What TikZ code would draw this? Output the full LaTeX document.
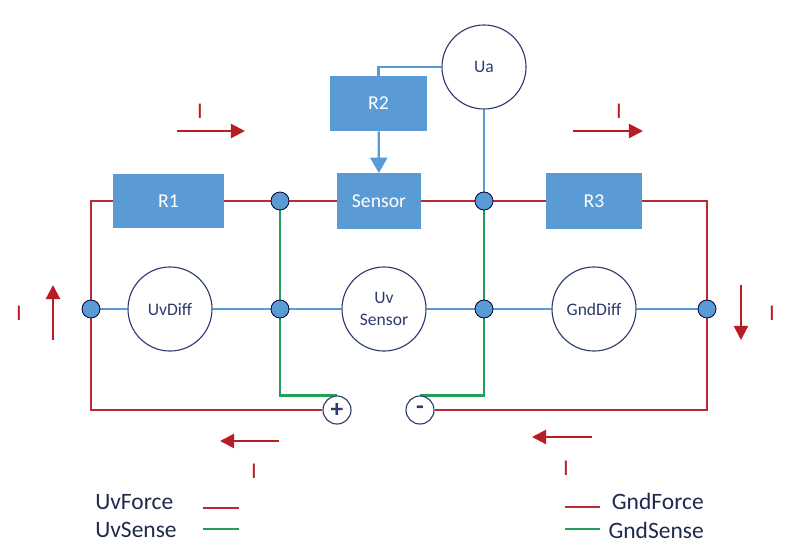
\documentclass[tikz,border=0pt]{standalone}
\usepackage{fontspec}
\setmainfont{Carlito}
\usepackage{xcolor}
\usetikzlibrary{calc,positioning,arrows.meta}
\definecolor{boxblue}{HTML}{5B9BD5}
\definecolor{wirered}{HTML}{B92B33}
\definecolor{arrowred}{HTML}{B81D24}
\definecolor{wiregreen}{HTML}{22A05A}
\definecolor{inkblue}{HTML}{2E3B6E}
\pgfdeclarelayer{background}
\pgfsetlayers{background,main}
\tikzset{
    x=0.025cm, y=-0.025cm,
    font={\fontsize{12.5pt}{15}\selectfont},
    block/.style={
        rectangle,
        fill=boxblue,
        text=white,
        inner sep=0pt,
        font={\fontsize{14pt}{15}\selectfont}
    },
    meter/.style={
        circle,
        draw=inkblue, thick,
        fill=white,
        text=inkblue,
        minimum size=2.1cm,
        inner sep=0pt,
        align=center
    },
    junction/.style={
        circle,
        draw=black!80!blue, semithick,
        fill=boxblue,
        minimum size=0.45cm,
        inner sep=0pt
    },
    terminal/.style={
        circle,
        draw=inkblue, thick,
        fill=white,
        text=inkblue,
        minimum size=0.7cm,
        inner sep=0pt,
        font={\fontsize{18pt}{18}\selectfont\bfseries}
    },
    force/.style={draw=wirered, line width=1.6pt},
    sense/.style={draw=wiregreen, line width=1.6pt},
    signal/.style={draw=boxblue, line width=1.6pt},
    current/.style={draw=arrowred, line width=1.5pt, -{Triangle[length=10pt,width=10pt]}},
    currentlabel/.style={text=arrowred, inner sep=0pt, font={\fontsize{16pt}{17}\selectfont}},
    legend/.style={text=inkblue!70!black, inner sep=0pt, font={\fontsize{16.7pt}{20}\selectfont}},
}
\begin{document}
\begin{tikzpicture}
\useasboundingbox (0,0) rectangle (800,558);
% upper row
\node[block, minimum width=2.78cm, minimum height=1.36cm] (r1) at (168.5,201) {R1};
\node[block, minimum width=2.1cm, minimum height=1.38cm] (sensor) at (379,201) {Sensor};
\node[block, minimum width=2.4cm, minimum height=1.38cm] (r3) at (594,201) {R3};
\node[block, minimum width=2.42cm, minimum height=1.38cm] (r2) at (378.5,103.5) {R2};
\node[meter] (ua) at (484,67) {Ua};
% meters
\node[meter] (uvdiff) at (170,309) {UvDiff};
\node[meter] (uvsensor) at (384,309) {Uv\\[1pt]Sensor};
\node[meter] (gnddiff) at (594,309) {GndDiff};
% junctions
\node[junction] (jl) at (91,309) {};
\node[junction] (ja) at (280,201) {};
\node[junction] (jb) at (280,309) {};
\node[junction] (jc) at (484,201) {};
\node[junction] (jd) at (484,309) {};
\node[junction] (jr) at (707,309) {};
% terminals
\node[terminal] (plus) at (337,410) {\raisebox{-0.7pt}{+}};
\node[terminal] (minus) at (420,410) {\raisebox{-2.2pt}{-}};
\begin{pgfonlayer}{background}
    % force lines
    \draw[force] (r1.west) -| (jl.center) |- (plus.west);
    \draw[force] (r1.east) -- (ja) -- (sensor.west);
    \draw[force] (sensor.east) -- (jc) -- (r3.west);
    \draw[force] (r3.east) -| (jr.center) |- (minus.east);
    % sense lines
    \draw[sense] (ja) -- (jb) |- (plus.north);
    \draw[sense] (jc) -- (jd) |- (minus.north);
    % measurement lines
    \draw[signal] (jl) -- (uvdiff) -- (jb) -- (uvsensor) -- (jd) -- (gnddiff) -- (jr);
    \draw[signal] (ua) -- (jc);
    \draw[signal] (ua.west) -| (r2.north);
    \draw[signal, -{Triangle[length=11pt,width=12pt]}] (r2) -- (sensor);
\end{pgfonlayer}
% current arrows
\coordinate (ia) at (177,131);
\coordinate (ib) at (245,131);
\coordinate (ic) at (573,131);
\coordinate (id) at (643,131);
\coordinate (ie) at (53,340);
\coordinate (if) at (53,285);
\coordinate (ig) at (741,285);
\coordinate (ih) at (741,340);
\coordinate (ii) at (279,441);
\coordinate (ij) at (220,441);
\coordinate (ik) at (592,437);
\coordinate (il) at (532,437);
\draw[current] (ia) -- (ib);
\draw[current] (ic) -- (id);
\draw[current] (ie) -- (if);
\draw[current] (ig) -- (ih);
\draw[current] (ii) -- (ij);
\draw[current] (ik) -- (il);
\node[currentlabel] (la) at (200,111) {I};
\node[currentlabel] (lb) at (619,111) {I};
\node[currentlabel] (lc) at (19,313) {I};
\node[currentlabel] (ld) at (772,313) {I};
\node[currentlabel] (le) at (254,471) {I};
\node[currentlabel] (lf) at (566,468) {I};
% legend
\node[legend, anchor=west] (uvforce) at (95,502) {UvForce};
\node[legend, anchor=west] (uvsense) at (95,530) {UvSense};
\node[legend, anchor=east] (gndforce) at (704,501) {GndForce};
\node[legend, anchor=east] (gndsense) at (704,530) {GndSense};
\coordinate (ufa) at (203,508);
\coordinate (ufb) at (239,508);
\coordinate (usa) at (203,529);
\coordinate (usb) at (239,529);
\coordinate (gfa) at (565,507);
\coordinate (gfb) at (600,507);
\coordinate (gsa) at (565,529);
\coordinate (gsb) at (600,529);
\draw[force] (ufa) -- (ufb);
\draw[sense] (usa) -- (usb);
\draw[force] (gfa) -- (gfb);
\draw[sense] (gsa) -- (gsb);
\end{tikzpicture}
\end{document}
